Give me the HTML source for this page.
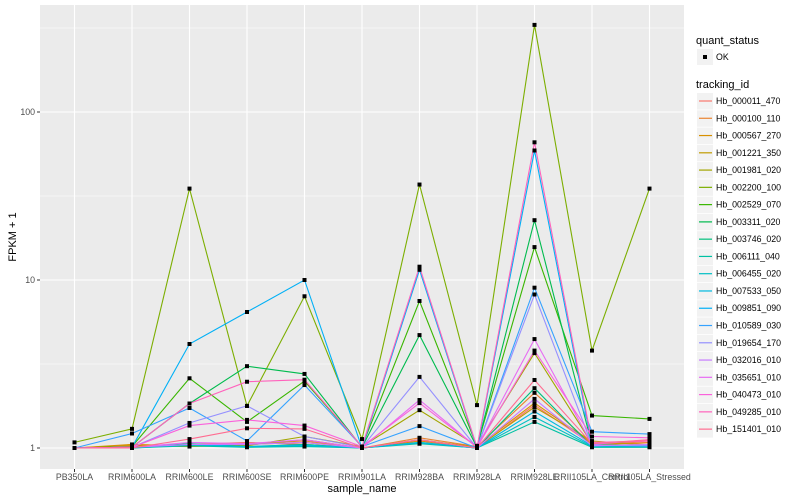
<!DOCTYPE html>
<html><head><meta charset="utf-8"><style>
body{margin:0;background:#fff;}
svg{display:block;font-family:"Liberation Sans",sans-serif;}
</style></head><body>
<svg id="chart" width="800" height="500" xmlns="http://www.w3.org/2000/svg">
<rect x="0" y="0" width="800" height="500" fill="#fff"/>
<rect x="40" y="5" width="644" height="464" fill="#ebebeb"/>
<g id="grid"></g>
<g id="lines"></g>
<g id="points"></g>
<g id="axes"></g>
<text x="362" y="492" font-size="11" text-anchor="middle" fill="#000">sample_name</text>
<text transform="translate(16,237) rotate(-90)" font-size="11" text-anchor="middle" fill="#000">FPKM + 1</text>
<g id="legend"></g>
</svg>
<script>
const categories=["PB350LA","RRIM600LA","RRIM600LE","RRIM600SE","RRIM600PE","RRIM901LA","RRIM928BA","RRIM928LA","RRIM928LE","RRII105LA_Control","RRII105LA_Stressed"];
const seriesNames=["Hb_000011_470","Hb_000100_110","Hb_000567_270","Hb_001221_350","Hb_001981_020","Hb_002200_100","Hb_002529_070","Hb_003311_020","Hb_003746_020","Hb_006111_040","Hb_006455_020","Hb_007533_050","Hb_009851_090","Hb_010589_030","Hb_019654_170","Hb_032016_010","Hb_035651_010","Hb_040473_010","Hb_049285_010","Hb_151401_010"];
const seriesColors=["#F8766D","#EA8331","#D89000","#C09B00","#A3A500","#7CAE00","#39B600","#00BB4E","#00BF7D","#00C1A3","#00BFC4","#00BAE0","#00B0F6","#35A2FF","#9590FF","#C77CFF","#E76BF3","#FA62DB","#FF62BC","#FF6C91"];
const s00=[1,1.02,1.05,1.08,1.05,1,1.1,1,1.8,1.05,1.1];
const s01=[1,1.04,1.04,1.06,1.1,1,1.15,1.02,2.13,1.05,1.08];
const s02=[1,1.05,1.03,1.05,1.08,1,1.1,1.02,1.85,1.08,1.05];
const s03=[1,1.03,1.02,1.04,1.12,1,1.12,1.01,1.75,1.1,1.04];
const s04=[1,1.02,1.04,1.03,1.17,1.02,1.68,1.03,3.67,1.06,1.03];
const s05=[1.08,1.3,35,1.78,8,1.13,37,1.8,330,3.8,35];
const s06=[1,1.02,2.6,1.43,2.5,1.02,7.5,1.02,15.7,1.56,1.49];
const s07=[1,1.01,1.84,3.07,2.76,1.01,4.7,1.01,22.7,1.04,1.03];
const s08=[1,1.01,1.06,1.02,1.05,1,1.08,1,2.27,1.02,1.02];
const s09=[1,1,1.03,1.01,1.02,1,1.06,1,1.43,1.01,1.01];
const s10=[1,1,1.04,1.02,1.03,1,1.07,1,1.53,1.02,1.02];
const s11=[1,1.01,1.05,1.02,1.04,1,1.08,1,1.65,1.03,1.02];
const s12=[1,1.01,4.16,6.45,10,1,11.5,1,59,1.04,1.04];
const s13=[1,1.22,1.73,1.1,2.37,1.02,1.35,1,9,1.25,1.21];
const s14=[1,1.01,1.41,1.78,1.17,1.01,2.65,1,8.2,1.04,1.03];
const s15=[1,1.01,1.05,1.05,1.08,1,1.12,1,1.96,1.03,1.05];
const s16=[1,1.01,1.08,1.06,1.12,1,1.93,1.01,4.45,1.05,1.12];
const s17=[1,1.01,1.36,1.47,1.36,1.02,1.85,1.01,3.8,1.17,1.15];
const s18=[1,1.01,1.84,2.48,2.55,1.02,12,1.01,66,1.08,1.1];
const s19=[1,1,1.13,1.31,1.3,1,1.12,1,2.54,1.06,1.12];
const seriesValues=[s00,s01,s02,s03,s04,s05,s06,s07,s08,s09,s10,s11,s12,s13,s14,s15,s16,s17,s18,s19];
const yTickValues=[1,10,100];
const yTickLabels=["1","10","100"];
const yMinorValues=[3.1623,31.623,316.23];

const NS="http://www.w3.org/2000/svg";
const PL=40,PR=684,PT=5,PB=469;
function xScale(i){const step=(PR-PL)/(categories.length+0.2);return PL+(i+0.6)*step;}
function yScale(v){return 448-168*Math.log10(v);}
function mk(tag,attrs,parent){const e=document.createElementNS(NS,tag);for(const k in attrs)e.setAttribute(k,attrs[k]);parent.appendChild(e);return e;}
const grid=document.getElementById('grid'),lines=document.getElementById('lines'),pts=document.getElementById('points'),axes=document.getElementById('axes'),leg=document.getElementById('legend');
yMinorValues.forEach(v=>{const y=yScale(v);if(y<PT||y>PB)return;const l=mk('line',{x1:PL,x2:PR,y1:y,y2:y,stroke:'#fff','stroke-width':0.55},grid);

});
yTickValues.forEach((v,i)=>{const y=yScale(v);const l=mk('line',{x1:PL,x2:PR,y1:y,y2:y,stroke:'#fff','stroke-width':1.1},grid);


const t=mk('line',{x1:PL-3,x2:PL,y1:y,y2:y,stroke:'#333','stroke-width':1},axes);


const tx=mk('text',{x:PL-5,y:y+3,'font-size':'8.8','text-anchor':'end',fill:'#4d4d4d'},axes);tx.textContent=yTickLabels[i];

});
categories.forEach((c,i)=>{const x=xScale(i);const l=mk('line',{x1:x,x2:x,y1:PT,y2:PB,stroke:'#fff','stroke-width':1.1},grid);


const t=mk('line',{x1:x,x2:x,y1:PB,y2:PB+3,stroke:'#333','stroke-width':1},axes);


const tx=mk('text',{x:x,y:480,'font-size':'8.8','text-anchor':'middle',fill:'#4d4d4d'},axes);tx.textContent=c;

});
seriesValues.forEach((vals,s)=>{const d=vals.map((v,i)=>(i?'L':'M')+xScale(i).toFixed(1)+','+yScale(v).toFixed(1)).join(' ');
const p=mk('path',{d:d,fill:'none',stroke:seriesColors[s],'stroke-width':1.1},lines);


vals.forEach((v,i)=>{const r=mk('rect',{x:xScale(i)-2,y:yScale(v)-2,width:4,height:4,fill:'#000'},pts);

});});
// legend
const t1=mk('text',{x:696,y:44,'font-size':'11',fill:'#000'},leg);t1.textContent='quant_status';


const kb=mk('rect',{x:697,y:49,width:16,height:16,fill:'#f2f2f2'},leg);


const kd=mk('rect',{x:703,y:55,width:4,height:4,fill:'#000'},leg);


const ko=mk('text',{x:716,y:60,'font-size':'8.8',fill:'#000'},leg);ko.textContent='OK';


const t2=mk('text',{x:696,y:88,'font-size':'11',fill:'#000'},leg);t2.textContent='tracking_id';


seriesNames.forEach((n,i)=>{const y=101+i*17.27;
const b=mk('rect',{x:697,y:y-8,width:16,height:16.5,fill:'#f2f2f2'},leg);


const l=mk('line',{x1:699,x2:712,y1:y,y2:y,stroke:seriesColors[i],'stroke-width':1.2},leg);


const t=mk('text',{x:716,y:y+3,'font-size':'8.8',fill:'#000'},leg);t.textContent=n;

});
</script>
</body></html>
